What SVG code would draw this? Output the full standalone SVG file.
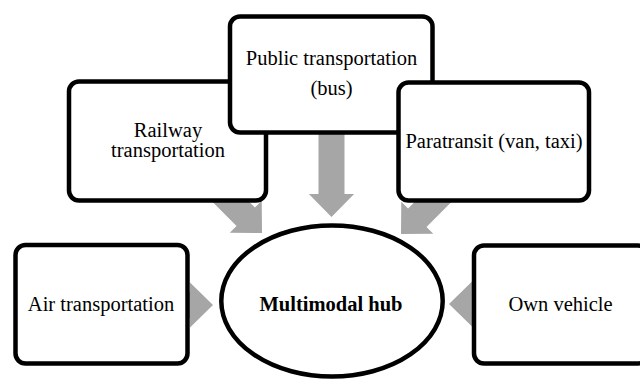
<svg xmlns="http://www.w3.org/2000/svg" width="640" height="379" viewBox="0 0 640 379">
  <defs>
    <style>
      .box { fill: #ffffff; stroke: #000000; stroke-width: 4.5; }
      .lbl { font-family: "Liberation Serif", "Times New Roman", serif; font-size: 20.5px; fill: #000000; text-anchor: middle; }
      .bold { font-weight: bold; }
      .arr { fill: #a6a6a6; stroke: none; }
    </style>
    <polygon id="arrow" class="arr" points="0,0 -23,-22.6 -23,-13 -90,-13 -90,13 -23,13 -23,22.6"/>
  </defs>
  <rect width="640" height="379" fill="#ffffff"/>
  <g id="connectors">
    <use href="#arrow" transform="translate(331.5,217) rotate(90)"/>
    <use href="#arrow" transform="translate(262,233) rotate(45)"/>
    <use href="#arrow" transform="translate(401,234) rotate(135)"/>
    <use href="#arrow" transform="translate(213,305)"/>
    <use href="#arrow" transform="translate(449,304) rotate(180)"/>
  </g>
  <g id="railway">
    <rect class="box" x="69" y="81.5" width="197" height="119" rx="10"/>
    <text class="lbl" x="168" y="137">Railway</text>
    <text class="lbl" x="168" y="157">transportation</text>
  </g>
  <g id="public">
    <rect class="box" x="230" y="16.5" width="202.5" height="116" rx="10"/>
    <text class="lbl" x="331.5" y="65">Public transportation</text>
    <text class="lbl" x="331.5" y="95">(bus)</text>
  </g>
  <g id="paratransit">
    <rect class="box" x="398.5" y="82.5" width="190.5" height="118" rx="10"/>
    <text class="lbl" x="494" y="148">Paratransit (van, taxi)</text>
  </g>
  <g id="air">
    <rect class="box" x="15.5" y="245" width="172" height="118.5" rx="10"/>
    <text class="lbl" x="101" y="311">Air transportation</text>
  </g>
  <g id="own">
    <rect class="box" x="474" y="245.5" width="174" height="118" rx="10"/>
    <text class="lbl" x="560.5" y="311">Own vehicle</text>
  </g>
  <g id="hub">
    <ellipse class="box" cx="332" cy="301" rx="110.7" ry="75.6"/>
    <text class="lbl bold" x="331" y="311">Multimodal hub</text>
  </g>
</svg>
